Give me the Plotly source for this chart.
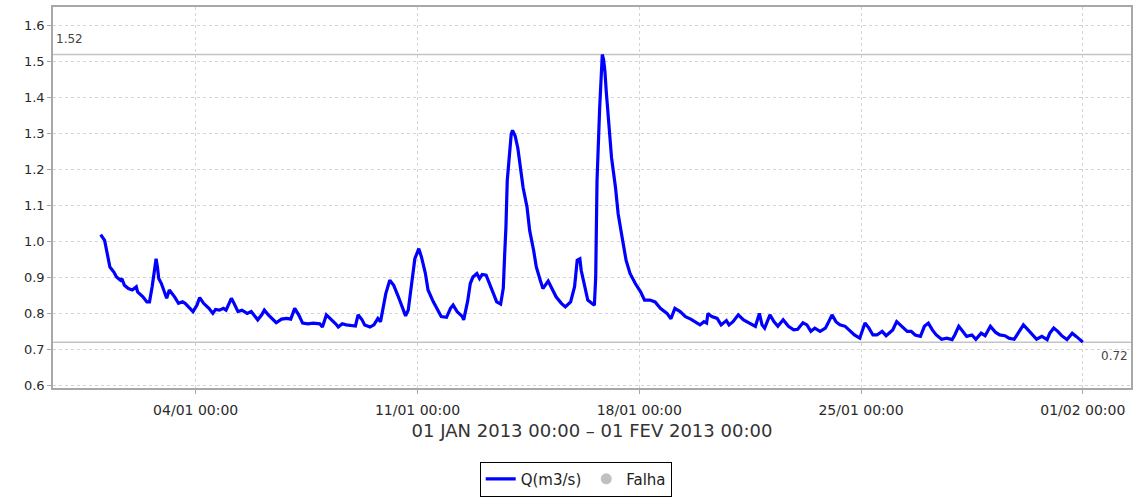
import pandas as pd
import plotly.graph_objects as go

# ---- data (hours since 2013-01-01 00:00, discharge m3/s) ----
hours = [0, 3, 5, 7, 10, 12, 15, 16, 18, 21, 24, 27, 28, 32, 35, 37, 39, 41, 42, 43, 44, 46, 48, 50, 52, 54, 56, 59,
         62, 64, 67, 70, 73, 75, 78, 82, 85, 87, 90, 93, 95, 99, 101, 104, 107, 111, 114, 117, 119, 122, 124, 127,
         130, 133, 137, 141, 144, 147, 150, 153, 157, 161, 166, 168, 171, 174, 178, 180, 183, 186, 190, 193, 195,
         198, 200, 204, 207, 210, 212, 214, 216, 219, 222, 225, 228, 231, 233, 236, 238, 241, 243, 246, 248, 252,
         255, 258, 262, 265, 267, 270, 274, 275, 278, 280, 282, 285, 287, 289, 292, 295, 298, 300, 303, 305, 306,
         307, 308, 310, 311, 312, 314, 316, 318, 320, 323, 325, 328, 330, 333, 335, 339, 342, 345, 349, 352, 356,
         359, 361, 363, 364, 367, 369, 372, 374, 375, 376, 378, 379, 380, 381, 382, 383, 385, 387, 390, 392, 395,
         398, 401, 405, 409, 412, 416, 420, 424, 429, 432, 435, 439, 443, 447, 450, 454, 457, 459, 460, 463, 467,
         470, 474, 476, 479, 483, 487, 491, 496, 499, 501, 503, 507, 510, 513, 517, 521, 525, 528, 532, 535, 538,
         541, 545, 549, 551, 554, 557, 560, 564, 568, 571, 575, 579, 582, 585, 588, 592, 595, 600, 603, 607, 611,
         614, 617, 621, 624, 627, 630, 633, 637, 641, 645, 647, 650, 653, 656, 660, 663, 667, 670, 674, 678, 681,
         685, 688, 692, 695, 699, 702, 705, 709, 713, 717, 719, 722, 725, 728, 732, 736, 739, 742, 744]

q = [1.019, 1.003, 0.966, 0.929, 0.915, 0.901, 0.892, 0.897, 0.878, 0.869, 0.865, 0.874, 0.860, 0.846, 0.832, 0.832,
     0.874, 0.938, 0.952, 0.929, 0.897, 0.883, 0.865, 0.842, 0.865, 0.856, 0.846, 0.828,
     0.832, 0.828, 0.817, 0.805, 0.823, 0.844, 0.828, 0.814, 0.800, 0.811, 0.809, 0.814, 0.809, 0.842, 0.828,
     0.805, 0.809, 0.800, 0.805, 0.791, 0.782, 0.796, 0.809, 0.796,
     0.786, 0.774, 0.784, 0.786, 0.784, 0.814, 0.796, 0.773, 0.771, 0.773, 0.771, 0.762, 0.796, 0.786, 0.771,
     0.762, 0.771, 0.768, 0.765, 0.765, 0.796,
     0.782, 0.768, 0.762, 0.768, 0.786, 0.777, 0.823, 0.855, 0.892, 0.878, 0.851, 0.823, 0.793, 0.809, 0.897,
     0.952, 0.980, 0.957, 0.911, 0.865, 0.832,
     0.809, 0.791, 0.789, 0.814, 0.823, 0.805, 0.791, 0.782, 0.834, 0.883, 0.901, 0.911, 0.897, 0.908, 0.906,
     0.878, 0.851, 0.832, 0.826, 0.870, 0.960,
     1.040, 1.169, 1.251, 1.298, 1.309, 1.293, 1.260, 1.205, 1.150, 1.095, 1.030, 0.975, 0.929, 0.892, 0.869,
     0.890, 0.867, 0.846, 0.828, 0.818, 0.832,
     0.874, 0.948, 0.952, 0.920, 0.869, 0.837, 0.828, 0.823, 0.900, 1.169, 1.371, 1.463, 1.520, 1.505, 1.472,
     1.417, 1.325, 1.233, 1.150, 1.077, 1.012,
     0.948, 0.911, 0.883, 0.860, 0.837, 0.837, 0.832, 0.814, 0.800, 0.785, 0.814, 0.805, 0.791, 0.784, 0.777,
     0.768, 0.777, 0.773, 0.800, 0.791, 0.786,
     0.768, 0.780, 0.768, 0.777, 0.796, 0.782, 0.773, 0.764, 0.800, 0.768, 0.759, 0.796, 0.777, 0.764, 0.782,
     0.764, 0.754, 0.756, 0.774, 0.768, 0.750,
     0.759, 0.750, 0.759, 0.773, 0.796, 0.777, 0.768, 0.764, 0.750, 0.740, 0.731, 0.773, 0.759, 0.740, 0.740,
     0.750, 0.738, 0.754, 0.777, 0.764, 0.750,
     0.750, 0.740, 0.736, 0.764, 0.773, 0.754, 0.740, 0.728, 0.731, 0.727, 0.740, 0.764, 0.750, 0.736, 0.740,
     0.728, 0.745, 0.738, 0.764, 0.747, 0.740,
     0.738, 0.731, 0.728, 0.745, 0.768, 0.756, 0.745, 0.728, 0.736, 0.727, 0.745, 0.759, 0.750, 0.738, 0.727,
     0.745, 0.736, 0.727, 0.720]

tick_dates = ["2013-01-04", "2013-01-11", "2013-01-18", "2013-01-25", "2013-02-01"]
tick_labels = ["04/01 00:00", "11/01 00:00", "18/01 00:00", "25/01 00:00", "01/02 00:00"]
x_title = "01 JAN 2013 00:00 \u2013 01 FEV 2013 00:00"
series_name = "Q(m3/s)"
fail_name = "Falha"

base = pd.Timestamp("2013-01-01 00:00")
times = base + pd.to_timedelta(hours, unit="h")
q_max = max(q)
q_min = min(q)

FONT = "DejaVu Sans"
TXT = "#2a2a2a"
GRID = "#d4d4d4"
AXIS = "#a8a8a8"

fig = go.Figure()
fig.add_trace(go.Scatter(x=times, y=q, mode="lines", name=series_name,
                         line=dict(color="#0000ff", width=3.2)))
fig.add_trace(go.Scatter(x=[None], y=[None], mode="markers", name=fail_name,
                         marker=dict(color="#c0c0c0", size=11)))

# min / max value markers
for val in (q_max, q_min):
    fig.add_shape(type="line", xref="paper", x0=0, x1=1, yref="y", y0=val, y1=val,
                  line=dict(color="#c4c4c4", width=1.5), layer="below")
fig.add_annotation(xref="paper", x=0, y=q_max, text=f"{q_max:.2f}", showarrow=False,
                   xanchor="left", yanchor="bottom", xshift=1, yshift=6,
                   font=dict(family=FONT, size=12, color="#444444"))
fig.add_annotation(xref="paper", x=1, y=q_min, text=f"{q_min:.2f}", showarrow=False,
                   xanchor="right", yanchor="top", xshift=-1, yshift=-5,
                   font=dict(family=FONT, size=12, color="#444444"))

fig.update_layout(
    width=1140, height=499,
    margin=dict(l=53, r=9, t=5, b=111),
    paper_bgcolor="white", plot_bgcolor="white",
    font=dict(family=FONT, size=13, color=TXT),
    showlegend=True,
    legend=dict(orientation="h", xref="container", yref="container",
                x=0.505, xanchor="center", y=0.04, yanchor="middle",
                bordercolor="#000000", borderwidth=1, bgcolor="white",
                font=dict(family=FONT, size=15, color="#222222"),
                itemwidth=30, tracegroupgap=0),
)
fig.update_xaxes(
    range=[base - pd.Timedelta(hours=36.1), base + pd.Timedelta(hours=780.5)],
    tickvals=pd.to_datetime(tick_dates), ticktext=tick_labels,
    showgrid=True, gridcolor=GRID, griddash="3px,3px", gridwidth=1,
    showline=True, mirror=True, linecolor=AXIS, linewidth=1.5,
    ticks="outside", ticklen=4, tickcolor=AXIS, ticklabelstandoff=4,
    tickfont=dict(family=FONT, size=14, color=TXT),
    title=dict(text=x_title, font=dict(family=FONT, size=18, color="#333333"), standoff=8),
    zeroline=False,
)
fig.update_yaxes(
    range=[0.5925, 1.652], dtick=0.1, tick0=0.6, tickformat=".1f",
    showgrid=True, gridcolor=GRID, griddash="3px,3px", gridwidth=1,
    showline=True, mirror=True, linecolor=AXIS, linewidth=1.5,
    ticks="outside", ticklen=4, tickcolor=AXIS,
    tickfont=dict(family=FONT, size=13, color=TXT),
    zeroline=False,
)

fig.write_html("out.html", config={"displayModeBar": False},
               post_script="document.body.style.margin='0';")
